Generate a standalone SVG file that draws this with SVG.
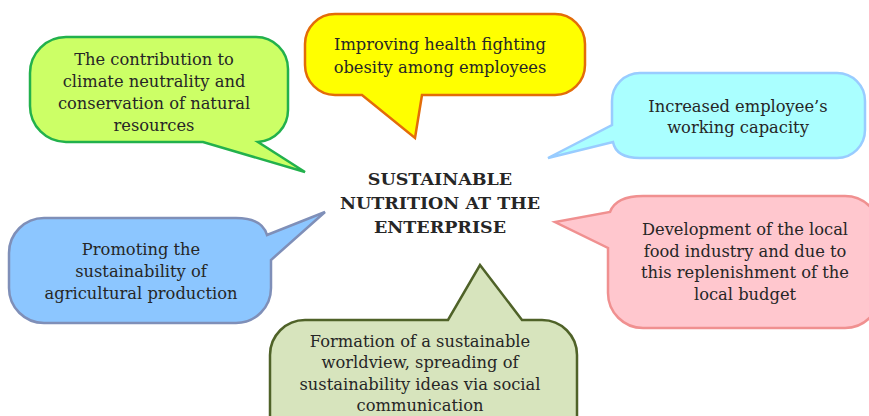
<svg xmlns="http://www.w3.org/2000/svg" width="869" height="416" viewBox="0 0 869 416">
  <style>
    .bubble { stroke-width: 2.5; stroke-linejoin: miter; }
    .txt { font-family: "DejaVu Serif", "Liberation Serif", serif; font-size: 16.3px; fill: #262626; text-anchor: middle; }
    .title { font-family: "DejaVu Serif", "Liberation Serif", serif; font-size: 17.5px; font-weight: bold; fill: #262626; text-anchor: middle; }
  </style>
  <rect width="869" height="416" fill="#ffffff"/>

  <!-- speech bubbles; each tail points at the central title -->
  <g id="climate">
    <path class="bubble" fill="#ccff66" stroke="#22b14c" d="M66,37 H256 A32,32 0 0 1 288,69 V110 A32,32 0 0 1 258,142 L305,172 L203,142 H66 A36,36 0 0 1 30,106 V73 A36,36 0 0 1 66,37 Z"/>
    <text class="txt" x="154" y="65">The contribution to</text>
    <text class="txt" x="154" y="87">climate neutrality and</text>
    <text class="txt" x="154" y="109">conservation of natural</text>
    <text class="txt" x="154" y="131">resources</text>
  </g>

  <g id="health">
    <path class="bubble" fill="#ffff00" stroke="#e36c09" d="M335,14 H555 A30,30 0 0 1 585,44 V65 A30,30 0 0 1 555,95 H422 L415,138 L362,95 H335 A30,30 0 0 1 305,65 V44 A30,30 0 0 1 335,14 Z"/>
    <text class="txt" x="440" y="50">Improving health fighting</text>
    <text class="txt" x="440" y="73">obesity among employees</text>
  </g>

  <g id="capacity">
    <path class="bubble" fill="#aaffff" stroke="#99ccff" d="M640,73 H837 A28,28 0 0 1 865,101 V130 A28,28 0 0 1 837,158 H640 Q616,158 613,142 L548,158 L612,125 V101 A28,28 0 0 1 640,73 Z"/>
    <text class="txt" x="738" y="112">Increased employee’s</text>
    <text class="txt" x="738" y="133">working capacity</text>
  </g>

  <g id="agriculture">
    <path class="bubble" fill="#8cc6ff" stroke="#7f8fb8" d="M44,218 H236 Q262,218 267,235 L325,212 L271,260 V288 A35,35 0 0 1 236,323 H44 A35,35 0 0 1 9,288 V253 A35,35 0 0 1 44,218 Z"/>
    <text class="txt" x="141" y="255">Promoting the</text>
    <text class="txt" x="141" y="277">sustainability of</text>
    <text class="txt" x="141" y="299">agricultural production</text>
  </g>

  <g id="industry">
    <path class="bubble" fill="#ffc7ce" stroke="#f09090" d="M643,196 H845 A35,35 0 0 1 880,231 V293 A35,35 0 0 1 845,328 H643 A35,35 0 0 1 608,293 V248 L555,222 L610,212 Q616,196 643,196 Z"/>
    <text class="txt" x="745" y="235">Development of the local</text>
    <text class="txt" x="745" y="257">food industry and due to</text>
    <text class="txt" x="745" y="278">this replenishment of the</text>
    <text class="txt" x="745" y="300">local budget</text>
  </g>

  <g id="worldview">
    <path class="bubble" fill="#d7e4bd" stroke="#4f6228" d="M305,320 H448 L480,265 L522,320 H542 A35,35 0 0 1 577,355 V450 H270 V355 A35,35 0 0 1 305,320 Z"/>
    <text class="txt" x="420" y="347">Formation of a sustainable</text>
    <text class="txt" x="420" y="368">worldview, spreading of</text>
    <text class="txt" x="420" y="390">sustainability ideas via social</text>
    <text class="txt" x="420" y="411">communication</text>
  </g>

  <g id="center">
    <text class="title" x="440" y="185">SUSTAINABLE</text>
    <text class="title" x="440" y="209">NUTRITION AT THE</text>
    <text class="title" x="440" y="233">ENTERPRISE</text>
  </g>

  <!-- no separate connectors: the bubble tails act as pointers -->
  <g id="connectors"/>
</svg>
